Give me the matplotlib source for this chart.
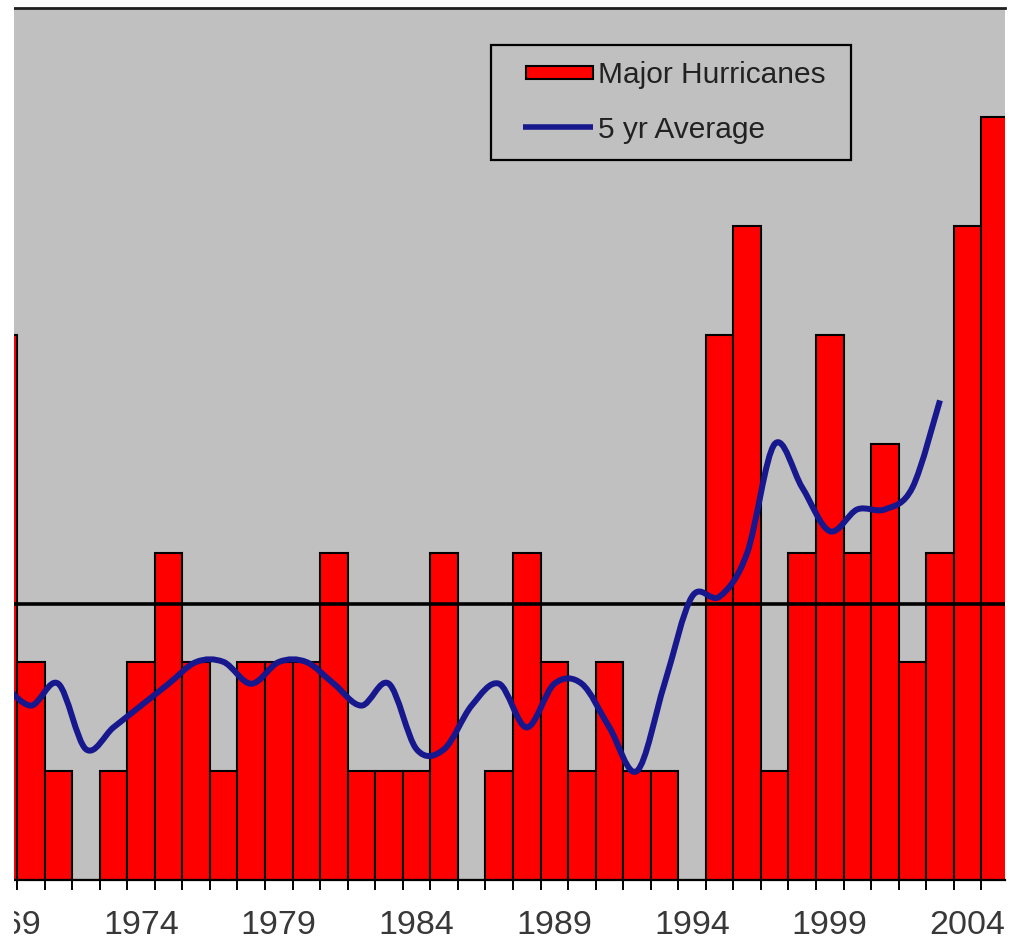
import numpy as np
import matplotlib
matplotlib.use('Agg')
import matplotlib.pyplot as plt
from matplotlib.path import Path
from matplotlib.patches import PathPatch, Patch, Rectangle
from matplotlib.lines import Line2D
from matplotlib.legend_handler import HandlerPatch, HandlerLine2D
from matplotlib.ticker import FixedLocator

plt.rcParams['font.family'] = ['Liberation Sans', 'DejaVu Sans']

# ---------------- data ----------------
years = list(range(1969, 2006))
major_hurricanes = [5, 2, 1, 0, 1,
                    2, 3, 2, 1, 2,
                    2, 2, 3, 1, 1,
                    1, 3, 0, 1, 3,
                    2, 1, 2, 1, 1,
                    0, 5, 6, 1, 3,
                    5, 3, 4, 2, 3,
                    6, 7]
avg_years = list(range(1969, 2004))
five_yr_avg = [1.8, 1.6, 1.8, 1.2, 1.4,
               1.6, 1.8, 2.0, 2.0, 1.8,
               2.0, 2.0, 1.8, 1.6, 1.8,
               1.2, 1.2, 1.6, 1.8, 1.4,
               1.8, 1.8, 1.4, 1.0, 1.8,
               2.6, 2.6, 3.0, 4.0, 3.6,
               3.2, 3.4, 3.4, 3.6, 4.4]
long_term_avg = 2.53
label_years = [1969, 1974, 1979, 1984, 1989, 1994, 1999, 2004]
series_names = ['Major Hurricanes', '5 yr Average']

# ---------------- figure ----------------
W, H = 1013, 940
fig = plt.figure(figsize=(W / 100, H / 100), dpi=100)
fig.patch.set_facecolor('white')

ax_left_px, ax_right_px = -10.5, 1005
ax_bottom_px, ax_top_px = 880, 8
ax = fig.add_axes([ax_left_px / W, (H - ax_bottom_px) / H,
                   (ax_right_px - ax_left_px) / W, (ax_bottom_px - ax_top_px) / H])
ax.set_facecolor('#c0c0c0')

BAR_RED = '#ff0000'
NAVY = '#17178e'

ax.bar(years, major_hurricanes, width=1.0, color=BAR_RED, edgecolor='black',
       linewidth=1.5, zorder=2)

ax.axhline(long_term_avg, color='black', linewidth=2.6, zorder=3)

# smoothed 5-yr average line (Bezier through the points)
pts = np.column_stack([np.array(avg_years, float), np.array(five_yr_avg, float)])
n = len(pts)
verts = [pts[0]]
codes = [Path.MOVETO]
for i in range(n - 1):
    p0 = pts[i - 1] if i > 0 else pts[i]
    p1 = pts[i]
    p2 = pts[i + 1]
    p3 = pts[i + 2] if i + 2 < n else pts[i + 1]
    c1 = p1 + (p2 - p0) / 6.0
    c2 = p2 - (p3 - p1) / 6.0
    verts += [c1, c2, p2]
    codes += [Path.CURVE4] * 3
curve = PathPatch(Path(verts, codes), fill=False, edgecolor=NAVY, linewidth=4.3,
                  capstyle='butt', joinstyle='round', zorder=4)
ax.add_patch(curve)

px_per_year = 27.55
x0 = 1968.5
ax.set_xlim(x0, x0 + (ax_right_px - ax_left_px) / px_per_year)
ax.set_ylim(0, 8)

for s in ['left', 'right']:
    ax.spines[s].set_visible(False)
ax.spines['top'].set_color('#202020')
ax.spines['top'].set_linewidth(2)
ax.spines['bottom'].set_color('black')
ax.spines['bottom'].set_linewidth(1.6)
ax.spines['bottom'].set_zorder(5)

ax.set_yticks([])
ax.xaxis.set_major_locator(FixedLocator(label_years))
ax.set_xticklabels([str(y) for y in label_years])
ax.xaxis.set_minor_locator(FixedLocator(np.arange(1968.5, 2006, 1.0)))
ax.tick_params(axis='x', which='major', length=0, pad=21.5, labelsize=24.5,
               labelcolor='#383838')
ax.tick_params(axis='x', which='minor', length=7, width=1.4, color='black',
               direction='out')

# ---------------- legend ----------------
FS = 21.5


def bar_handle(legend, orig_handle, xdescent, ydescent, width, height, fontsize):
    off = 19 * 72 / 100.0
    h = 13 * 72 / 100.0
    return Rectangle((-xdescent + off, -ydescent + (height - h) / 2.0), width - off, h)


class ShiftedLine(HandlerLine2D):
    def get_xdata(self, legend, xdescent, ydescent, width, height, fontsize):
        off = 16 * 72 / 100.0
        xd = np.array([-xdescent + off, -xdescent + width])
        return xd, xd


red_proxy = Patch(facecolor=BAR_RED, edgecolor='black', linewidth=1.5)
line_proxy = Line2D([], [], color=NAVY, linewidth=4.0, solid_capstyle='butt')

leg = ax.legend([red_proxy, line_proxy],
                [series_names[0] + ' ', series_names[1]],
                handler_map={Patch: HandlerPatch(patch_func=bar_handle),
                             Line2D: ShiftedLine()},
                loc='upper left',
                bbox_to_anchor=(491 / W, 1 - 45 / H),
                bbox_transform=fig.transFigure,
                borderaxespad=0, borderpad=0.55,
                fontsize=FS, handlelength=2.85, handletextpad=0.2,
                labelspacing=0.88, fancybox=False, shadow=False,
                framealpha=1, facecolor='#c0c0c0', edgecolor='black')
leg.get_frame().set_linewidth(1.6)
leg.set_zorder(6)
for t in leg.get_texts():
    t.set_color('#222222')

# white margin on the left (the picture is cropped there)
fig.add_artist(Rectangle((0, 0), 14 / W, 1, transform=fig.transFigure,
                         facecolor='white', edgecolor='none', zorder=20))

fig.savefig('out.png', dpi=100, facecolor='white')
